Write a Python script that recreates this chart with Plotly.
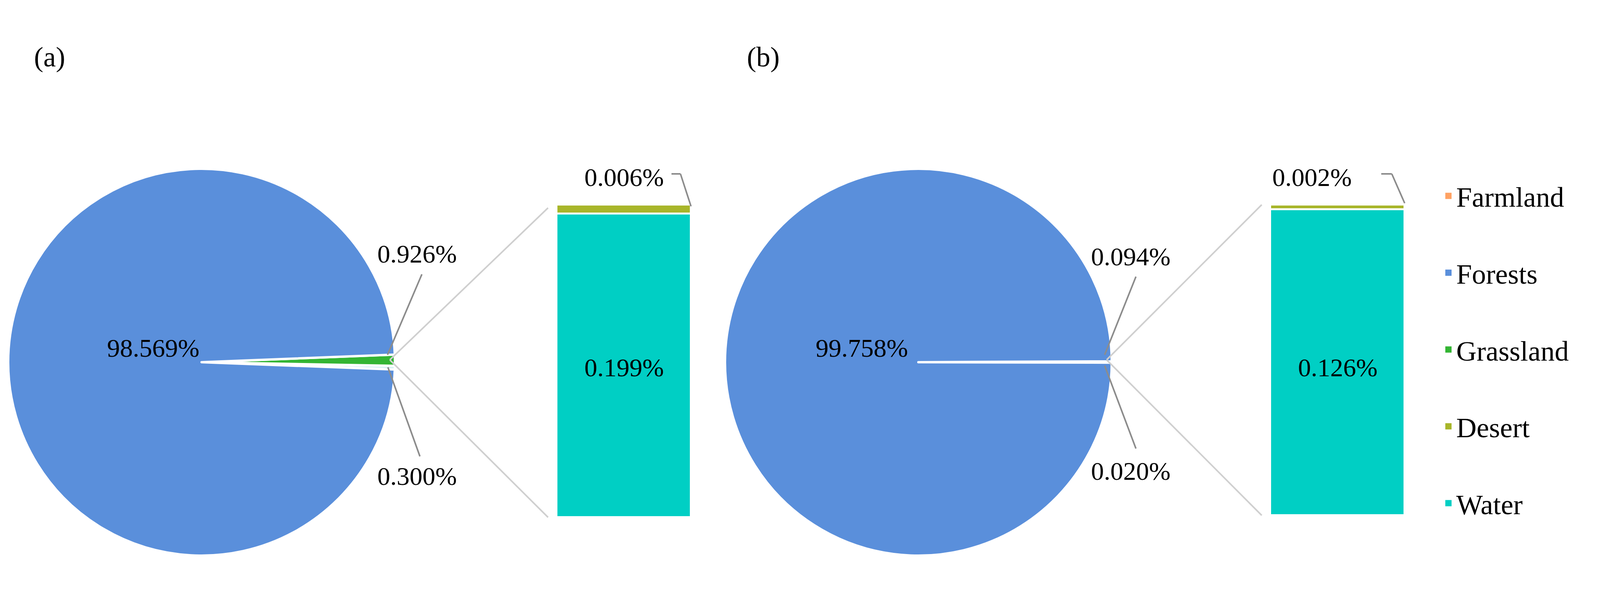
import plotly.graph_objects as go

W, H = 4139, 1510
FONT = "'Liberation Serif', 'Times New Roman', 'DejaVu Serif', serif"

# Data
pie_labels = ["Other", "Grassland", "Forests"]
pie_a = [0.300, 0.926, 98.569]
pie_b = [0.020, 0.094, 99.758]
bar_cats = ["Water", "Desert"]
bar_a = [0.199, 0.006]
bar_b = [0.126, 0.002]
legend_names = ["Farmland", "Forests", "Grassland", "Desert", "Water"]

colors = {"Farmland": "#FFA263", "Forests": "#5A8FDB", "Grassland": "#33B533",
          "Desert": "#A8B62A", "Water": "#00CFC4", "Other": "#CFEFF2"}

def px(x): return x / W
def py(y): return 1 - y / H

fig = go.Figure()

R = 495
for cx, vals in [(508, pie_a), (2343, pie_b)]:
    fig.add_trace(go.Pie(
        labels=pie_labels, values=vals, sort=False, direction="counterclockwise",
        rotation=90 + vals[0] / sum(vals) * 360,
        marker=dict(colors=[colors[l] for l in pie_labels], line=dict(color="white", width=6)),
        textinfo="none", hoverinfo="label+value", showlegend=False,
        domain=dict(x=[px(cx - R), px(cx + R)], y=[py(919 + R), py(919 - R)])))

for i, (vals, xd) in enumerate([(bar_a, [px(1417), px(1761)]), (bar_b, [px(3244), px(3588)])]):
    xa = "x" if i == 0 else "x2"
    ya = "y" if i == 0 else "y2"
    for cat, v in zip(bar_cats, vals):
        fig.add_trace(go.Bar(x=[0], y=[v], xaxis=xa, yaxis=ya, showlegend=False,
                             marker=dict(color=colors[cat], line=dict(color="white", width=5)),
                             width=1))
    ax = dict(domain=xd, range=[-0.5, 0.5], visible=False)
    ay = dict(domain=[py(1316 if i == 0 else 1311), py(516)], range=[0, sum(vals)], visible=False)
    if i == 0:
        fig.update_layout(xaxis=ax, yaxis=ay)
    else:
        fig.update_layout(xaxis2=ax, yaxis2=ay)

for n in legend_names:
    fig.add_trace(go.Scatter(x=[None], y=[None], mode="markers", name=n, legendgroup=n,
                             marker=dict(symbol="square", size=30, color=colors[n])))

fig.update_layout(barmode="stack", bargap=0,
                  font=dict(family=FONT),
                  legend=dict(x=px(3680), y=py(440), xanchor="left", yanchor="top",
                              font=dict(family=FONT, size=72, color="black"),
                              tracegroupgap=100, itemwidth=30),
                  width=W, height=H, margin=dict(l=0, r=0, t=0, b=0),
                  paper_bgcolor="white", plot_bgcolor="white")

ann = [
    ("(a)", 119, 138, 72), ("(b)", 1946, 138, 72),
    ("98.569%", 384, 882, 66), ("0.926%", 1059, 641, 66), ("0.300%", 1059, 1210, 66),
    ("0.006%", 1589, 445, 66), ("0.199%", 1589, 932, 66),
    ("99.758%", 2198, 882, 66), ("0.094%", 2886, 649, 66), ("0.020%", 2886, 1197, 66),
    ("0.002%", 3350, 445, 66), ("0.126%", 3416, 932, 66),
]
for t, x, y, s in ann:
    fig.add_annotation(text=t, x=px(x), y=py(y), xref="paper", yref="paper", showarrow=False,
                       xanchor="center", yanchor="middle",
                       font=dict(family=FONT, size=s, color="black"))

def line(x0, y0, x1, y1, c="#CFCFCF", w=4):
    fig.add_shape(type="line", xref="paper", yref="paper", x0=px(x0), y0=py(y0), x1=px(x1), y1=py(y1),
                  line=dict(color=c, width=w))

# zoom connectors
line(990, 913, 1395, 524); line(990, 913, 1395, 1316)
line(2825, 913, 3222, 516); line(2825, 913, 3222, 1311)
# leader lines
g = "#8C8C8C"
line(1072, 694, 984, 900, g); line(985, 932, 1067, 1160, g)
line(2900, 700, 2820, 900, g); line(2820, 928, 2900, 1140, g)
line(1711, 437, 1734, 437, g); line(1734, 437, 1761, 520, g)
line(3528, 437, 3555, 437, g); line(3555, 437, 3588, 512, g)

fig.write_html("out.html")
